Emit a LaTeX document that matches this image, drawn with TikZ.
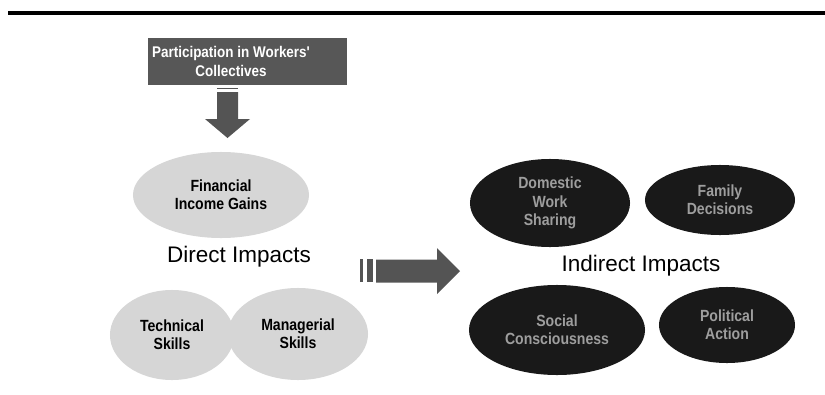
\documentclass[tikz,border=0pt]{standalone}
\usepackage{fontspec}
\setmainfont{Liberation Sans}
\newfontfamily\condfont[FakeStretch=0.87]{Liberation Sans}
\usetikzlibrary{shapes.geometric}
\usetikzlibrary{positioning}
\definecolor{boxgray}{rgb}{0.34, 0.34, 0.34}
\definecolor{arrowgray}{rgb}{0.33, 0.33, 0.33}
\definecolor{lightell}{rgb}{0.84, 0.84, 0.84}
\definecolor{darkell}{rgb}{0.10, 0.10, 0.10}
\definecolor{dimtext}{rgb}{0.62, 0.62, 0.62}

\begin{document}
\begin{tikzpicture}[x=0.025cm,y=-0.025cm,
	lightoval/.style={ellipse,fill=lightell,inner sep=0pt,align=center,
		font=\condfont\bfseries\fontsize{11.5}{13}\selectfont},
	darkoval/.style={ellipse,fill=darkell,text=dimtext,inner sep=0pt,align=center,
		font=\condfont\bfseries\fontsize{11.5}{13}\selectfont},
	impactlabel/.style={font=\fontsize{16}{19}\selectfont}]
	
	\useasboundingbox (0,0) rectangle (825,395);
	\draw [line width=2.2pt] (8,13) -- (825,13);
	
	\node [fill=boxgray,minimum width=4.975cm,minimum height=1.175cm] (participation) at (247.5,61.5) {};
	\node [text=white,align=center,font=\condfont\bfseries\fontsize{11}{13}\selectfont]
		(participationtext) at (231,61.5) {Participation in Workers'\\Collectives};
	
	% direct impacts
	\node [lightoval,minimum width=4.4cm,minimum height=2.15cm] (financial) at (221,195) {Financial\\Income Gains};
	\node [impactlabel] (directlabel) at (239,257) {Direct Impacts};
	\node [lightoval,minimum width=3.1cm,minimum height=2.25cm] (technical) at (172,335) {Technical\\Skills};
	\node [lightoval,minimum width=3.5cm,minimum height=2.3cm] (managerial) at (298,334) {Managerial\\Skills};
	
	% indirect impacts
	\node [darkoval,minimum width=4cm,minimum height=2.2cm] (domestic) at (550,203) {Domestic\\Work\\Sharing};
	\node [darkoval,minimum width=3.75cm,minimum height=1.75cm] (family) at (720,200) {Family\\Decisions};
	\node [impactlabel] (indirectlabel) at (641,266) {Indirect Impacts};
	\node [darkoval,minimum width=4.4cm,minimum height=2.25cm] (social) at (557,330) {Social\\Consciousness};
	\node [darkoval,minimum width=3.4cm,minimum height=1.9cm] (political) at (727,325) {Political\\Action};
	
	% block arrows
	\coordinate (D1) at (227.5,92);
	\draw [arrowgray,line width=1pt] (217,88.5) -- (238,88.5);
	\fill [arrowgray] (D1) ++(-10.5,0) -- ++(21,0) -- ++(0,27) -- ++(12,0) -- (227.5,138)
		-- (205,119) -- ++(12,0) -- cycle;
	
	\coordinate (R1) at (376,271);
	\fill [arrowgray] (360,259) rectangle (363,282);
	\fill [arrowgray] (367,259) rectangle (373,282);
	\fill [arrowgray] (R1) ++(0,-11.5) -- ++(61,0) -- ++(0,-11.5) -- (460,271) -- (437,294)
		-- ++(0,-11.5) -- ++(-61,0) -- cycle;
\end{tikzpicture}
\end{document}
